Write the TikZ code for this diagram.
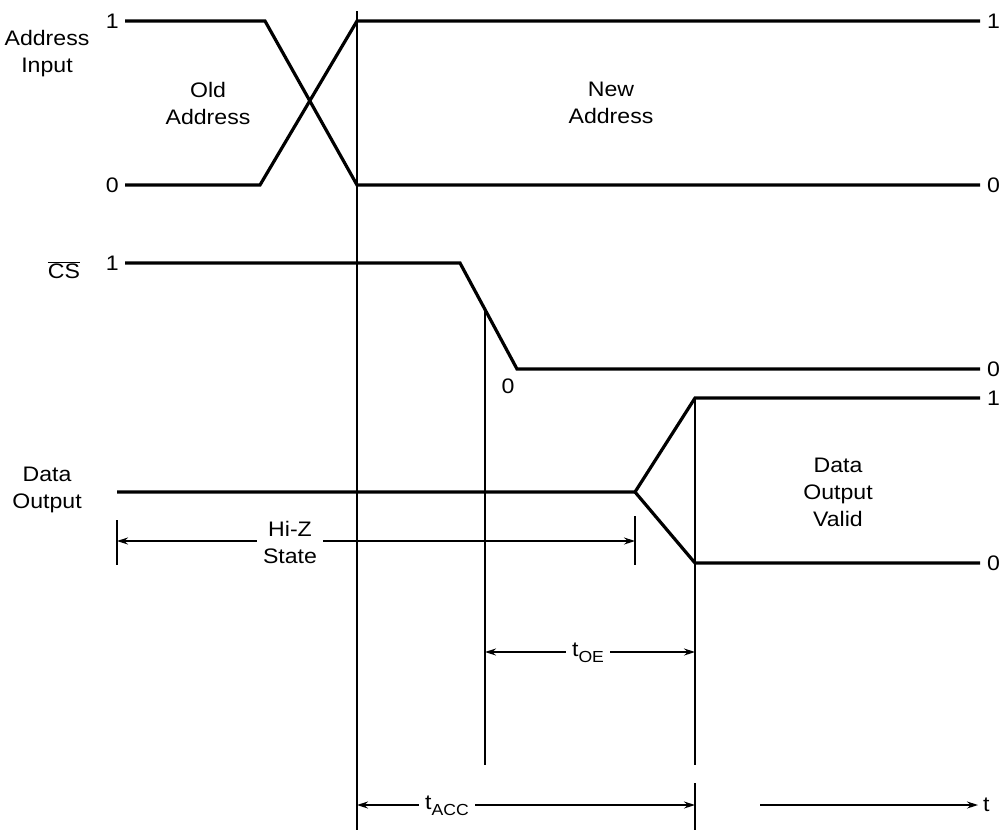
\documentclass[tikz,border=0pt]{standalone}
\usepackage{fontspec}
\setmainfont{Liberation Sans}[FakeStretch=1.1]
\usetikzlibrary{arrows.meta}
\begin{document}
\begin{tikzpicture}[x=1pt,y=-1pt,
  sig/.style={line width=3.2pt, line join=miter},
  guide/.style={line width=1.2pt},
  tip/.tip={Stealth[length=11pt,width=7pt]},
  dimarr/.style={line width=1.2pt, tip-tip},
  onearr/.style={line width=1.2pt, -tip},
  lbl/.style={font=\fontsize{21}{27}\selectfont, align=center, inner sep=1pt},
  sublbl/.style={font=\fontsize{21}{27}\selectfont, inner xsep=6pt, inner ysep=2pt, fill=white},
]
\useasboundingbox (0,0) rectangle (1003,830);
% ---------- coordinates ----------
% address
\coordinate (a1s) at (125,21);
\coordinate (a1k) at (265,21);
\coordinate (a0s) at (125,185);
\coordinate (a0k) at (260,185);
\coordinate (aT) at (357,21);
\coordinate (aB) at (357,185);
\coordinate (a1e) at (980,21);
\coordinate (a0e) at (980,185);
% cs
\coordinate (c1s) at (125,263);
\coordinate (c1k) at (460,263);
\coordinate (c0k) at (517,369);
\coordinate (c0e) at (980,369);
\coordinate (cmid) at (485,310);
% data
\coordinate (d0s) at (117,492);
\coordinate (dk) at (635,492);
\coordinate (dT) at (695,398);
\coordinate (dB) at (695,563);
\coordinate (d1e) at (980,398);
\coordinate (d0e) at (980,563);
% guide lines
\coordinate (g1t) at (357,11);
\coordinate (g1b) at (357,830);
\coordinate (g2b) at (485,765);
\coordinate (g3m) at (695,765);
\coordinate (g3r) at (695,783);
\coordinate (g3b) at (695,830);
% hi-z ticks
\coordinate (hzLt) at (117,520);
\coordinate (hzLb) at (117,565);
\coordinate (hzRt) at (635,516);
\coordinate (hzRb) at (635,565);
\coordinate (hzL) at (117,541);
\coordinate (hzR) at (635,541);
% toe/tacc
\coordinate (oeL) at (485,652);
\coordinate (oeR) at (695,652);
\coordinate (acL) at (357,805);
\coordinate (acR) at (695,805);
\coordinate (tS) at (760,805);
\coordinate (tE) at (978,805);

% ---------- signals ----------
\draw[sig] (a1s) -- (a1k) -- (aB) -- (a0e);
\draw[sig] (a0s) -- (a0k) -- (aT) -- (a1e);
\draw[sig] (c1s) -- (c1k) -- (c0k) -- (c0e);
\draw[sig] (d0s) -- (dk) -- (dT) -- (d1e);
\draw[sig] (dk) -- (dB) -- (d0e);

% ---------- guides ----------
\draw[guide] (g1t) -- (g1b);
\draw[guide] (cmid) -- (g2b);
\draw[guide] (dT) -- (g3m);
\draw[guide] (g3r) -- (g3b);
\draw[guide] (hzLt) -- (hzLb);
\draw[guide] (hzRt) -- (hzRb);

% ---------- dimension arrows ----------
\draw[dimarr] (hzL) -- (hzR);
\draw[dimarr] (oeL) -- (oeR);
\draw[dimarr] (acL) -- (acR);
\draw[onearr] (tS) -- (tE);

% ---------- labels ----------
\node[lbl] (lA) at (47,54) {Address\\Input};
\node[lbl] (lOld) at (208,103) {Old\\Address};
\node[lbl] (lNew) at (611,103) {New\\Address};
\node[lbl, anchor=east] (la1) at (a1s) [xshift=-5pt] {1};
\node[lbl, anchor=east] (la0) at (a0s) [xshift=-5pt] {0};
\node[lbl, anchor=west] (la1r) at (a1e) [xshift=6pt] {1};
\node[lbl, anchor=west] (la0r) at (a0e) [xshift=6pt] {0};

\node[lbl] (lCS) at (64,270) {$\overline{\mbox{CS}}$};
\node[lbl, anchor=east] (lc1) at (c1s) [xshift=-5pt] {1};
\node[lbl] (lc0) at (508,386) {0};
\node[lbl, anchor=west] (lc0r) at (c0e) [xshift=6pt] {0};

\node[lbl] (lD) at (47,490) {Data\\Output};
\node[lbl] (lV) at (838,492) {Data\\Output\\Valid};
\node[lbl, anchor=west] (ld1r) at (d1e) [xshift=6pt] {1};
\node[lbl, anchor=west] (ld0r) at (d0e) [xshift=6pt] {0};

\node[lbl, fill=white, inner xsep=6pt, inner ysep=3pt] (lHZ) at (290,542) {Hi-Z\\State};
\node[sublbl] (lOE) at (588,653) {t\raisebox{-0.3em}{\fontsize{16}{18}\selectfont OE}};
\node[sublbl] (lACC) at (447,806) {t\raisebox{-0.3em}{\fontsize{16}{18}\selectfont ACC}};
\node[lbl, anchor=west] (lt) at (tE) [xshift=4pt] {t};
\end{tikzpicture}
\end{document}
